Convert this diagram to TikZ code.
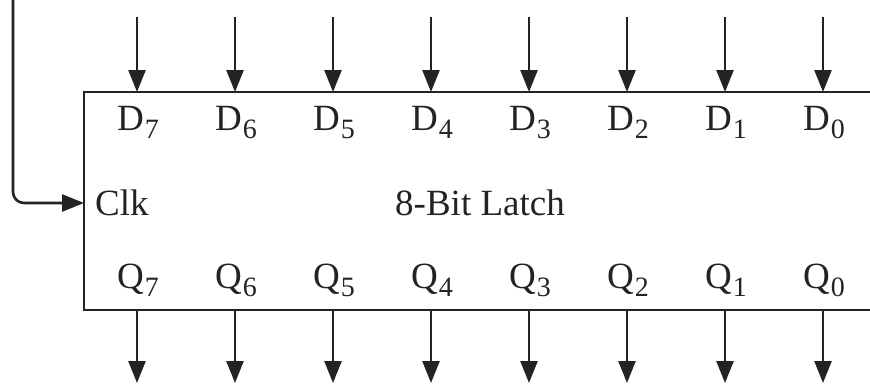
\documentclass[tikz,border=0pt]{standalone}
\usepackage{fontspec}
\setmainfont{Liberation Serif}
\usetikzlibrary{arrows.meta}
\definecolor{ink}{RGB}{35,35,35}
\newcommand\mainsz{\fontsize{37}{42}\selectfont}
\newcommand\subsz{\fontsize{28}{32}\selectfont}
\newcommand\lbl[2]{#1\kern1pt\raisebox{-8pt}{\subsz #2}}
\begin{document}
\begin{tikzpicture}[x=1pt,y=-1pt,
  line/.style={draw=ink,line width=2.6pt},
  arr/.style={line,-{Triangle[length=22pt,width=17pt]}},
  txt/.style={inner sep=0pt,text=ink,font=\mainsz}]
\useasboundingbox (0,0) rectangle (870,389);
% box (open on the right side, runs past the edge)
\coordinate (tr) at (872,92);
\coordinate (tl) at (84,92);
\coordinate (bl) at (84,310);
\coordinate (br) at (872,310);
\draw[line,line join=miter] (tr) -- (tl) -- (bl) -- (br);
% clock
\coordinate (clkin) at (13,-2);
\coordinate (clkport) at (84,203);
\draw[arr,rounded corners=11pt] (clkin) |- (clkport);
\node[txt,anchor=base west] (clk) at (95,215) {Clk};
\node[txt,anchor=base] (title) at (480,215) {8-Bit Latch};
% data inputs and outputs
\foreach \k in {0,...,7}{
  \pgfmathtruncatemacro\n{7-\k}
  \pgfmathsetmacro\xx{137+98*\k}
  \coordinate (s\n) at (\xx,17);
  \coordinate (t\n) at (\xx,92);
  \coordinate (b\n) at (\xx,310);
  \coordinate (e\n) at (\xx,383);
  \draw[arr] (s\n) -- (t\n);
  \draw[arr] (b\n) -- (e\n);
  \node[txt,anchor=base] (d\n) at (\xx+1,130) {\lbl{D}{\n}};
  \node[txt,anchor=base] (q\n) at (\xx+1,288) {\lbl{Q}{\n}};
}
\end{tikzpicture}
\end{document}
